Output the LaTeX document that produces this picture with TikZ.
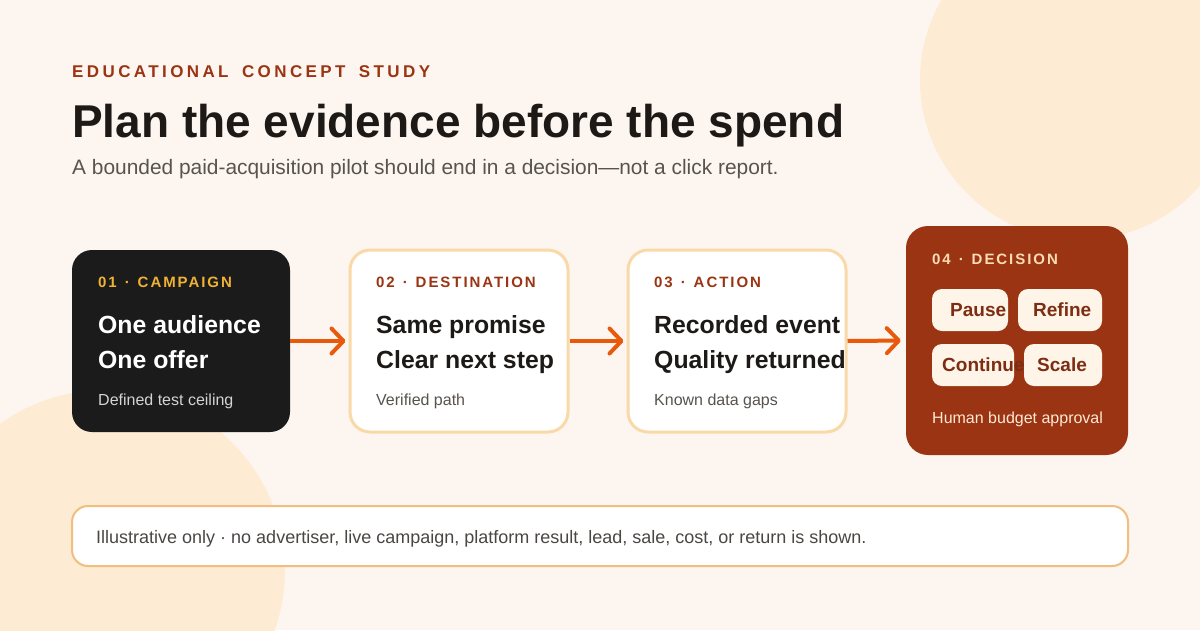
\documentclass[tikz,border=0pt]{standalone}
\usepackage{fontspec}
\setmainfont{Liberation Sans}
\newfontfamily\trackfont[LetterSpace=13, WordSpace=1.3]{Liberation Sans}
\newfontfamily\kickerfont[LetterSpace=20, WordSpace=1.65]{Liberation Sans}
\usepackage{xcolor}
\usetikzlibrary{arrows.meta, positioning}

\definecolor{pagebg}{HTML}{FDF6F0}
\definecolor{blob}{HTML}{FDEBD4}
\definecolor{ink}{HTML}{1C1917}
\definecolor{rust}{HTML}{9A3412}
\definecolor{subgray}{HTML}{57534E}
\definecolor{cardblack}{HTML}{1B1B1B}
\definecolor{gold}{HTML}{F0B232}
\definecolor{softgray}{HTML}{D6D3D1}
\definecolor{cardline}{HTML}{F9D9A8}
\definecolor{arrowc}{HTML}{E8590C}
\definecolor{chipfill}{HTML}{FFF4E8}
\definecolor{chipink}{HTML}{7C2D12}
\definecolor{peach}{HTML}{FCDCB4}
\definecolor{peachlight}{HTML}{FDE9D4}
\definecolor{footline}{HTML}{F2BE80}
\definecolor{footgray}{HTML}{4A4644}
\newcommand{\fs}[1]{\fontsize{#1}{#1}\selectfont}

\begin{document}
\begin{tikzpicture}[x=1pt, y=-1pt,
    card/.style={rounded corners=20pt, minimum width=218pt, minimum height=182pt, inner sep=0pt},
    lightcard/.style={card, fill=white, draw=cardline, line width=3pt},
    tag/.style={anchor=base west, inner sep=0pt, font=\trackfont\bfseries\fs{15}},
    headline/.style={anchor=base west, inner sep=0pt, font=\bfseries\fs{24.8}},
    note/.style={anchor=base west, inner sep=0pt, font=\fs{16}},
    chip/.style={fill=chipfill, rounded corners=10pt, minimum height=42pt, inner sep=0pt},
    chiptext/.style={anchor=base west, inner sep=0pt, text=chipink, font=\bfseries\fs{19}},
    flow/.style={draw=arrowc, line width=4pt, -{Straight Barb[length=12pt, width=25pt, round]}}
]
    % page and background blobs
    \fill[pagebg] (0,0) rectangle (1200,630);
    \useasboundingbox (0,0) rectangle (1200,630);
    \begin{scope}
        \clip (0,0) rectangle (1200,630);
        \fill[blob] (1080,80) circle (160pt);
        \fill[blob] (105,570) circle (180pt);
    \end{scope}

    % header
    \node[anchor=base west, inner sep=0pt, text=rust, font=\kickerfont\bfseries\fs{17}] (kicker) at (72,77) {EDUCATIONAL CONCEPT STUDY};
    \node[anchor=base west, inner sep=0pt, text=ink, font=\bfseries\fs{46}] (title) at (72,137) {Plan the evidence before the spend};
    \node[anchor=base west, inner sep=0pt, text=subgray, font=\fs{20.9}] (subtitle) at (72,174) {A bounded paid-acquisition pilot should end in a decision—not a click report.};

    % cards
    \node[card, fill=cardblack] (camp) at (181,341) {};
    \node[lightcard] (dest) at (459,341) {};
    \node[lightcard] (act) at (737,341) {};
    \node[card, fill=rust, minimum width=222pt, minimum height=229pt, rounded corners=22pt] (dec) at (1017,340.5) {};

    % 01
    \node[tag, text=gold] (camptag) at (98,287) {01 · CAMPAIGN};
    \node[headline, text=white] (camphead1) at (98,333) {One audience};
    \node[headline, text=white] (camphead2) at (98,368) {One offer};
    \node[note, text=softgray] (campnote) at (98,405) {Defined test ceiling};

    % 02
    \node[tag, text=rust] (desttag) at (376,287) {02 · DESTINATION};
    \node[headline, text=ink] (desthead1) at (376,333) {Same promise};
    \node[headline, text=ink] (desthead2) at (376,368) {Clear next step};
    \node[note, text=subgray] (destnote) at (376,405) {Verified path};

    % 03
    \node[tag, text=rust] (acttag) at (654,287) {03 · ACTION};
    \node[headline, text=ink] (acthead1) at (654,333) {Recorded event};
    \node[headline, text=ink] (acthead2) at (654,368) {Quality returned};
    \node[note, text=subgray] (actnote) at (654,405) {Known data gaps};

    % 04
    \node[tag, text=peach] (dectag) at (932,264) {04 · DECISION};
    \node[chip, minimum width=76pt] (pause) at (970,310) {};
    \node[chiptext] (pausetxt) at (950,316) {Pause};
    \node[chip, minimum width=84pt] (refine) at (1060,310) {};
    \node[chiptext] (refinetxt) at (1033,316) {Refine};
    \node[chip, minimum width=82pt] (cont) at (973,365) {};
    \node[chiptext] (conttxt) at (942,371) {Continue};
    \node[chip, minimum width=78pt] (scale) at (1063,365) {};
    \node[chiptext] (scaletxt) at (1037,371) {Scale};
    \node[note, text=peachlight] (decnote) at (932,423) {Human budget approval};

    % arrows
    \draw[flow, shorten >=3pt] (camp.east) -- (dest.west);
    \draw[flow, shorten >=3pt] (dest.east) -- (act.west);
    \draw[flow, shorten >=5pt] (act.east) -- (dec.west);

    % footer
    \node[draw=footline, line width=2pt, fill=white, rounded corners=16pt, minimum width=1056pt, minimum height=60pt, inner sep=0pt] (foot) at (600,536) {};
    \node[anchor=base west, inner sep=0pt, text=footgray, font=\fs{18}] (foottxt) at (96,543) {Illustrative only · no advertiser, live campaign, platform result, lead, sale, cost, or return is shown.};
\end{tikzpicture}
\end{document}
